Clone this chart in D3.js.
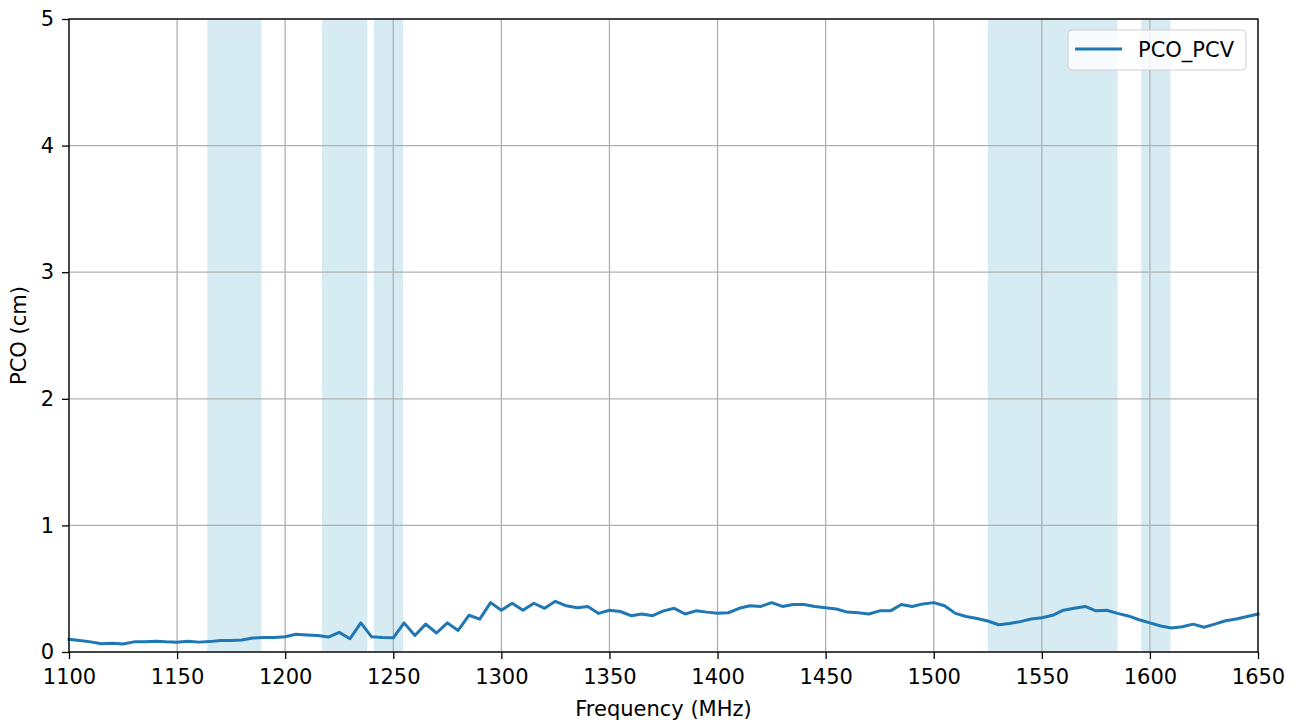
<!DOCTYPE html>
<html>
<head>
<meta charset="utf-8">
<script src="https://cdn.jsdelivr.net/npm/d3@7"></script>
<style>
  body { margin: 0; background: #fff; }
  svg { font-family: "DejaVu Sans", sans-serif; }
</style>
</head>
<body>
<div id="chart"></div>
<script>
// frequency grid, 5 MHz steps
const freqs = d3.range(1100, 1651, 5);
const pco = [
  0.10, 0.09, 0.08, 0.065, 0.07, 0.063, 0.08, 0.08, 0.085, 0.08,
  0.077, 0.085, 0.078, 0.082, 0.09, 0.09, 0.095, 0.11, 0.115, 0.115,
  0.12, 0.14, 0.135, 0.13, 0.118, 0.155, 0.105, 0.23, 0.12, 0.115,
  0.112, 0.23, 0.13, 0.22, 0.15, 0.23, 0.17, 0.29, 0.26, 0.39,
  0.33, 0.385, 0.33, 0.385, 0.345, 0.40, 0.365, 0.35, 0.36, 0.305,
  0.33, 0.32, 0.287, 0.30, 0.287, 0.325, 0.345, 0.30, 0.325, 0.315,
  0.307, 0.31, 0.345, 0.365, 0.36, 0.39, 0.36, 0.375, 0.375, 0.36,
  0.35, 0.34, 0.315, 0.31, 0.30, 0.325, 0.325, 0.375, 0.36, 0.38,
  0.39, 0.365, 0.305, 0.28, 0.265, 0.245, 0.215, 0.225, 0.24, 0.26,
  0.27, 0.29, 0.33, 0.345, 0.36, 0.325, 0.33, 0.305, 0.285, 0.255,
  0.23, 0.205, 0.19, 0.20, 0.22, 0.195, 0.22, 0.247, 0.26, 0.28,
  0.30
];
// shaded frequency bands [start, end] in MHz
const bands = [
  [1164, 1189],
  [1217, 1238],
  [1241, 1254.5],
  [1525, 1585],
  [1596, 1609.5]
];
const xTicks = d3.range(1100, 1651, 50);
const yTicks = [0, 1, 2, 3, 4, 5];
const seriesName = "PCO_PCV";

const W = 1296, H = 721;
const margin = { top: 19, right: 38, bottom: 69, left: 69 };
const width = W - margin.left - margin.right,
  height = H - margin.top - margin.bottom;

const svg = d3.select("#chart").append("svg")
  .attr("width", W).attr("height", H);
const g = svg.append("g")
  .attr("transform", `translate(${margin.left},${margin.top})`);

const x = d3.scaleLinear().domain([1100, 1650]).range([0, width]);
const y = d3.scaleLinear().domain([0, 5]).range([height, 0]);

// bands
g.append("g").selectAll("rect")
  .data(bands)
  .join("rect")
  .attr("x", (d) => x(d[0]))
  .attr("width", (d) => x(d[1]) - x(d[0]))
  .attr("y", 0)
  .attr("height", height)
  .attr("fill", "#add8e6")
  .attr("fill-opacity", 0.5);

// grid
const grid = g.append("g").attr("stroke", "#b0b0b0").attr("stroke-width", 1.3);
grid.selectAll(".gx").data(xTicks).join("line")
  .attr("x1", (d) => x(d)).attr("x2", (d) => x(d))
  .attr("y1", 0).attr("y2", height);
grid.selectAll(".gy").data(yTicks).join("line")
  .attr("y1", (d) => y(d)).attr("y2", (d) => y(d))
  .attr("x1", 0).attr("x2", width);

// line
const line = d3.line().x((d, i) => x(freqs[i])).y((d) => y(d));
g.append("path")
  .datum(pco)
  .attr("fill", "none")
  .attr("stroke", "#1f77b4")
  .attr("stroke-width", 3)
  .attr("stroke-linejoin", "round")
  .attr("stroke-linecap", "square")
  .attr("d", line);

// axes
const xAxis = g.append("g")
  .attr("transform", `translate(0,${height})`)
  .call(d3.axisBottom(x).tickValues(xTicks).tickSize(7).tickPadding(10).tickFormat(d3.format("d")));
const yAxis = g.append("g")
  .call(d3.axisLeft(y).tickValues(yTicks).tickSize(7).tickPadding(8).tickFormat(d3.format("d")));
[xAxis, yAxis].forEach((a) => {
  a.select(".domain").remove();
  a.selectAll(".tick line").attr("stroke", "#000").attr("stroke-width", 1.3);
  a.selectAll(".tick text").attr("font-size", 21).attr("fill", "#000")
    .attr("font-family", "DejaVu Sans");
});

// frame
g.append("rect")
  .attr("width", width).attr("height", height)
  .attr("fill", "none").attr("stroke", "#000").attr("stroke-width", 1.3);

// labels
svg.append("text")
  .attr("x", margin.left + width / 2).attr("y", 716)
  .attr("text-anchor", "middle").attr("font-size", 21)
  .text("Frequency (MHz)");
svg.append("text")
  .attr("transform", `translate(26,${margin.top + height / 2}) rotate(-90)`)
  .attr("text-anchor", "middle").attr("font-size", 21)
  .text("PCO (cm)");

// legend
const leg = svg.append("g").attr("transform", "translate(1068,30)");
leg.append("rect")
  .attr("width", 178).attr("height", 40).attr("rx", 4)
  .attr("fill", "#fff").attr("fill-opacity", 0.8)
  .attr("stroke", "#d0d0d0").attr("stroke-width", 1);
leg.append("line")
  .attr("x1", 7).attr("x2", 54).attr("y1", 19).attr("y2", 19)
  .attr("stroke", "#1f77b4").attr("stroke-width", 3);
leg.append("text")
  .attr("x", 70).attr("y", 27).attr("font-size", 21)
  .text(seriesName);
</script>
</body>
</html>
